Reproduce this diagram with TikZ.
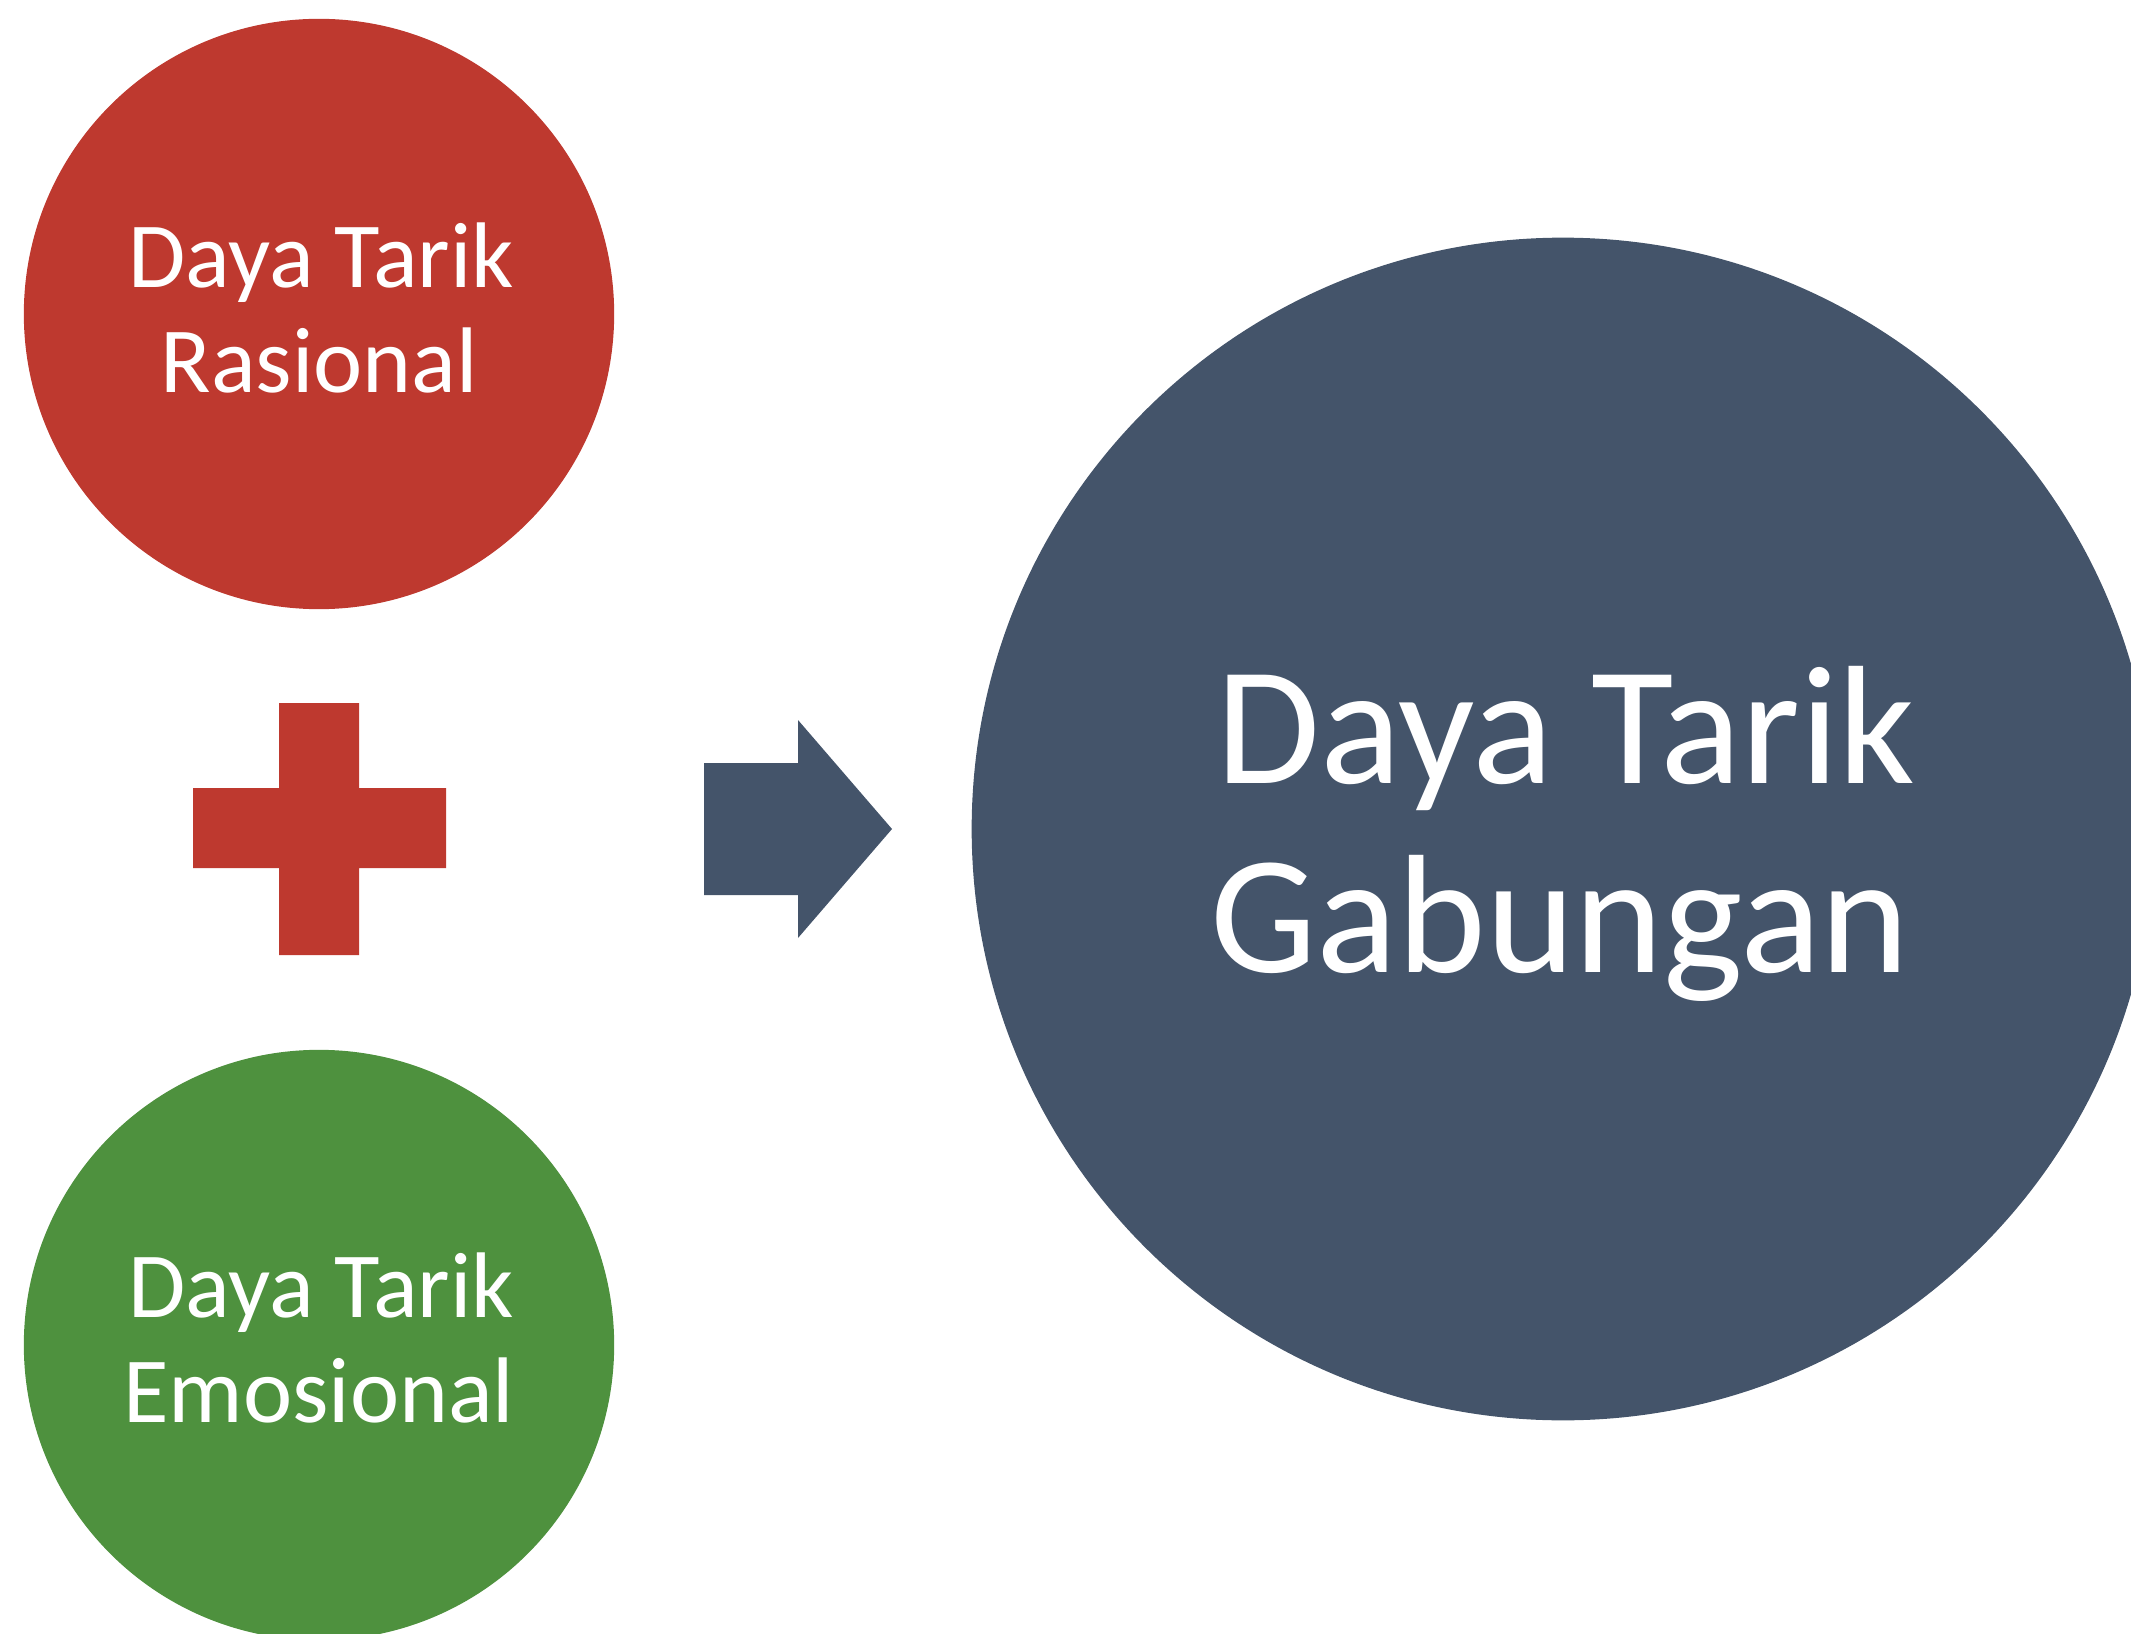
\documentclass[tikz,border=0pt]{standalone}
\usepackage{fontspec}
\setmainfont{Carlito}
\definecolor{redc}{RGB}{190,57,47}
\definecolor{greenc}{RGB}{78,145,62}
\definecolor{slate}{RGB}{68,84,106}
\begin{document}
\begin{tikzpicture}[x=0.01cm,y=-0.01cm,
  smallcirc/.style={circle,minimum size=5.9cm,inner sep=0pt},
  smalltxt/.style={anchor=base,inner sep=0pt,text=white,font=\fontsize{26.5pt}{30pt}\selectfont},
  bigtxt/.style={anchor=base,inner sep=0pt,text=white,font=\fontsize{48pt}{54pt}\selectfont}]
\path[use as bounding box] (0,0) rectangle (2131,1634);
\clip (0,0) rectangle (2131,1634);
% circles
\node[smallcirc,fill=redc] (rc) at (319,314) {};
\node[smallcirc,fill=greenc] (gc) at (319,1345) {};
\node[circle,minimum size=11.82cm,inner sep=0pt,fill=slate] (bc) at (1563,829) {};
% plus sign
\fill[redc] (279,703) -- (359,703) -- (359,788) -- (446,788) -- (446,868) -- (359,868)
  -- (359,955) -- (279,955) -- (279,868) -- (193,868) -- (193,788) -- (279,788) -- cycle;
% arrow
\fill[slate] (704,763) -- (798,763) -- (798,720) -- (892,829) -- (798,938) -- (798,895)
  -- (704,895) -- cycle;
% texts
\node[smalltxt] (r1) at (321,288) {Daya Tarik};
\node[smalltxt] (r2) at (319,393) {Rasional};
\node[smalltxt] (g1) at (321,1317) {Daya Tarik};
\node[smalltxt] (g2) at (319,1422) {Emosional};
\node[bigtxt] (b1) at (1566,783) {Daya Tarik};
\node[bigtxt] (b2) at (1560,972) {Gabungan};
\end{tikzpicture}
\end{document}
